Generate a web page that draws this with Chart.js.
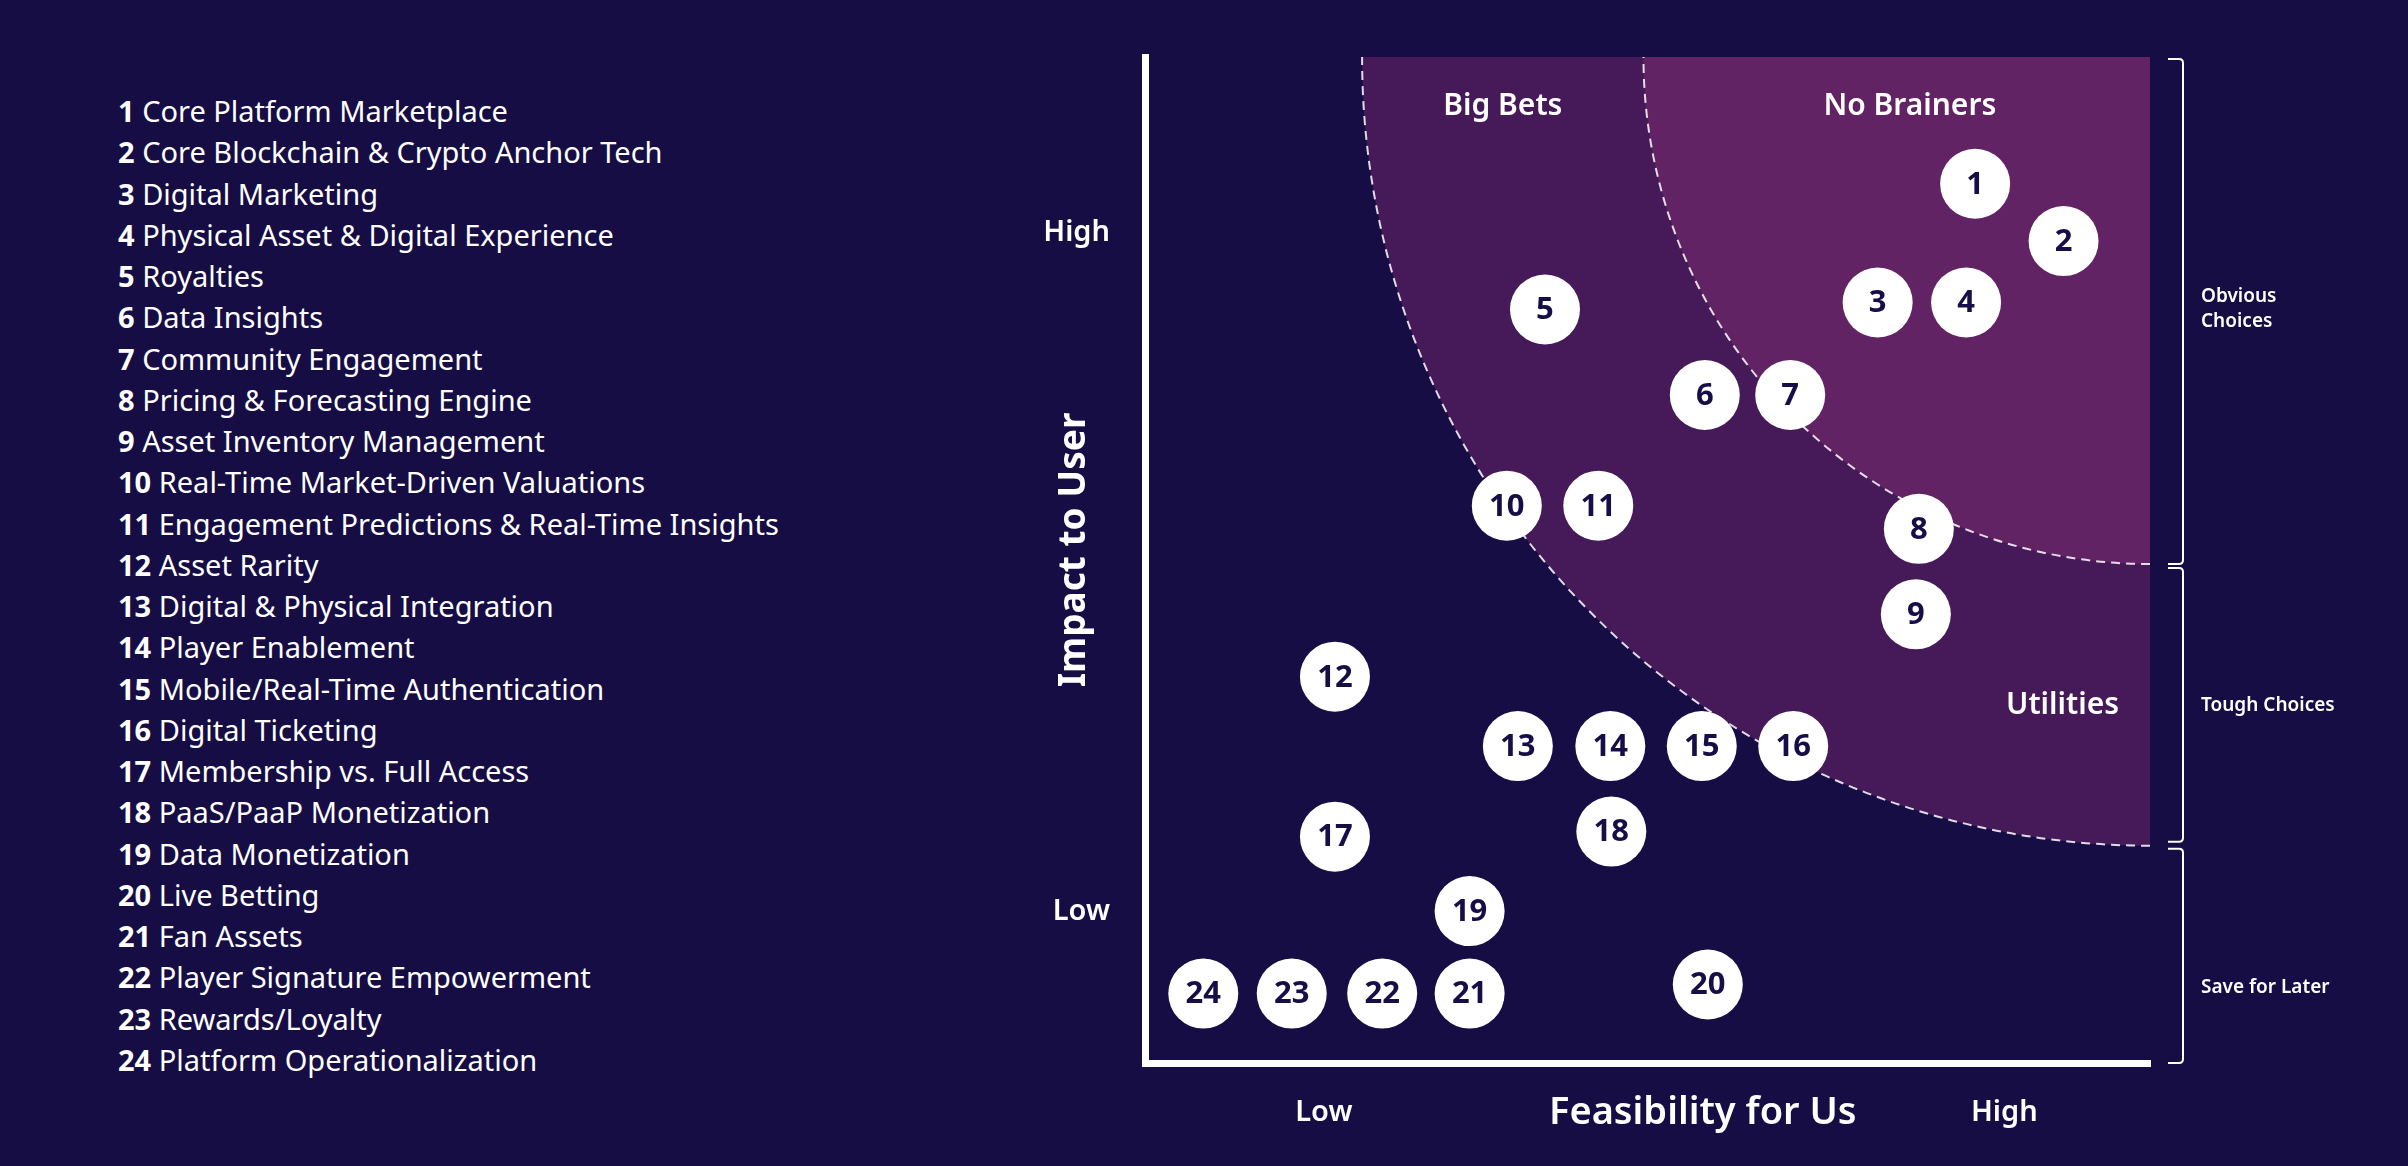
<!DOCTYPE html>
<html>
<head>
<meta charset="utf-8">
<script src="https://cdn.jsdelivr.net/npm/chart.js@4.4.1/dist/chart.umd.min.js"></script>
<style>
  html, body { margin:0; padding:0; background:#160d45; }
  #wrap { position:relative; width:2408px; height:1166px; overflow:hidden; }
  #chart { position:absolute; left:0; top:0; }
  #items { position:absolute; left:118px; top:90px; margin:0; padding:0; list-style:none;
           color:#fff; font-family:'Noto Sans', sans-serif; font-size:29px; }
  #items li { height:41.25px; line-height:41.25px; white-space:nowrap; }
  #items b { font-weight:700; }
</style>
</head>
<body>
<div id="wrap">
  <ol id="items"></ol>
  <canvas id="chart" width="2408" height="1166"></canvas>
</div>
<script>
const itemNames = [
  "Core Platform Marketplace",
  "Core Blockchain & Crypto Anchor Tech",
  "Digital Marketing",
  "Physical Asset & Digital Experience",
  "Royalties",
  "Data Insights",
  "Community Engagement",
  "Pricing & Forecasting Engine",
  "Asset Inventory Management",
  "Real-Time Market-Driven Valuations",
  "Engagement Predictions & Real-Time Insights",
  "Asset Rarity",
  "Digital & Physical Integration",
  "Player Enablement",
  "Mobile/Real-Time Authentication",
  "Digital Ticketing",
  "Membership vs. Full Access",
  "PaaS/PaaP Monetization",
  "Data Monetization",
  "Live Betting",
  "Fan Assets",
  "Player Signature Empowerment",
  "Rewards/Loyalty",
  "Platform Operationalization"
];
// feasibility (x) and impact (y), 0-100
const feasibility = [82.6, 91.4, 72.9, 81.7, 39.8, 55.7, 64.2, 77.0, 76.7, 36.0, 45.1, 18.9,
                     37.1, 46.3, 55.4, 64.5, 18.9, 46.4, 32.3, 56.0, 32.3, 23.6, 14.6, 5.8];
const impact      = [87.4, 81.7, 75.6, 75.6, 74.9, 66.4, 66.4, 53.1, 44.6, 55.4, 55.4, 38.4,
                     31.5, 31.5, 31.5, 31.5, 22.5, 23.0, 15.1, 7.8, 6.9, 6.9, 6.9, 6.9];

const xTickValues = [17.8, 85.5];
const xTickLabels = ["Low", "High"];
const yTickValues = [15.0, 82.5];
const yTickLabels = ["Low", "High"];

const zoneRadii = [78.4, 50.4];
const zoneColors = ["#461a58", "#622364"];
const zoneLabels = ["Big Bets", "No Brainers", "Utilities"];
const zoneLabelX = [35.6, 76.1, 91.3];
const zoneLabelY = [95.1, 95.1, 35.5];

const groupNames = [["Obvious", "Choices"], ["Tough Choices"], ["Save for Later"]];
const groupRanges = [[99.8, 49.6], [49.2, 22.0], [21.3, 0]];
const groupLabelY = [74.9, 35.5, 7.5];

const FONT = "'Noto Sans', sans-serif";
const NAVY = "#170e47";

// left hand list
document.getElementById("items").innerHTML = itemNames
  .map((n, i) => `<li><b>${i + 1}</b> ${n.replace(/&/g, "&amp;")}</li>`).join("");

const zones = {
  id: "zones",
  beforeDatasetsDraw(chart) {
    const { ctx, chartArea: a, scales: { x, y } } = chart;
    const cx = x.getPixelForValue(100), cy = y.getPixelForValue(100);
    ctx.save();
    ctx.beginPath();
    ctx.rect(a.left, a.top, a.right - a.left, a.bottom - a.top);
    ctx.clip();
    zoneRadii.forEach((r, i) => {
      const rx = cx - x.getPixelForValue(100 - r);
      const ry = y.getPixelForValue(100 - r) - cy;
      ctx.beginPath();
      ctx.ellipse(cx, cy, rx, ry, 0, 0, Math.PI * 2);
      ctx.fillStyle = zoneColors[i];
      ctx.fill();
    });
    ctx.setLineDash([9, 6]);
    ctx.lineWidth = 2;
    ctx.strokeStyle = "rgba(255,255,255,0.85)";
    zoneRadii.forEach(r => {
      const rx = cx - x.getPixelForValue(100 - r);
      const ry = y.getPixelForValue(100 - r) - cy;
      ctx.beginPath();
      ctx.ellipse(cx, cy, rx, ry, 0, Math.PI / 2, Math.PI);
      ctx.stroke();
    });
    ctx.restore();
  }
};

const labels = {
  id: "labels",
  afterDatasetsDraw(chart) {
    const { ctx, chartArea: a, scales: { x, y } } = chart;
    ctx.save();
    ctx.textAlign = "center";
    ctx.textBaseline = "middle";

    // numbers in the bubbles
    ctx.fillStyle = NAVY;
    ctx.font = `700 31px ${FONT}`;
    chart.getDatasetMeta(0).data.forEach((pt, i) => {
      ctx.fillText(String(i + 1), pt.x, pt.y + 1);
    });

    // zone names
    ctx.fillStyle = "#fff";
    ctx.font = `600 30px ${FONT}`;
    zoneLabels.forEach((t, i) => {
      ctx.fillText(t, x.getPixelForValue(zoneLabelX[i]), y.getPixelForValue(zoneLabelY[i]));
    });

    // axis titles
    ctx.font = `600 38px ${FONT}`;
    ctx.fillText("Feasibility for Us", x.getPixelForValue(55.5), a.bottom + 50);
    ctx.save();
    ctx.translate(a.left - 71, y.getPixelForValue(51));
    ctx.rotate(-Math.PI / 2);
    ctx.font = `700 37px ${FONT}`;
    ctx.fillText("Impact to User", 0, 0);
    ctx.restore();

    // brackets on the right
    ctx.strokeStyle = "#fff";
    ctx.lineWidth = 2;
    const bx = a.right + 33, hx = a.right + 18;
    groupRanges.forEach(([t, b]) => {
      const y1 = y.getPixelForValue(t), y2 = y.getPixelForValue(b);
      ctx.beginPath();
      ctx.moveTo(hx, y1);
      ctx.lineTo(bx - 4, y1);
      ctx.quadraticCurveTo(bx, y1, bx, y1 + 4);
      ctx.lineTo(bx, y2 - 4);
      ctx.quadraticCurveTo(bx, y2, bx - 4, y2);
      ctx.lineTo(hx, y2);
      ctx.stroke();
    });
    ctx.textAlign = "left";
    ctx.font = `600 19px ${FONT}`;
    groupNames.forEach((lines, i) => {
      const cy = y.getPixelForValue(groupLabelY[i]);
      lines.forEach((l, j) => {
        ctx.fillText(l, a.right + 51, cy + (j - (lines.length - 1) / 2) * 25);
      });
    });
    ctx.restore();
  }
};

new Chart(document.getElementById("chart"), {
  type: "scatter",
  data: {
    datasets: [{
      data: feasibility.map((v, i) => ({ x: v, y: impact[i] })),
      backgroundColor: "#fff",
      borderWidth: 0,
      pointRadius: 35,
      pointHoverRadius: 35
    }]
  },
  options: {
    responsive: false,
    devicePixelRatio: 1,
    animation: false,
    events: [],
    layout: { padding: { left: 0, top: 57, right: 258, bottom: 0 } },
    plugins: { legend: { display: false }, tooltip: { enabled: false } },
    scales: {
      x: {
        min: 0, max: 100,
        afterBuildTicks: s => { s.ticks = xTickValues.map(v => ({ value: v })); },
        afterFit: s => { s.height = 103; },
        ticks: { callback: (v, i) => xTickLabels[i], color: "#fff", padding: 32,
                 font: { family: FONT, size: 29, weight: "600" } },
        grid: { display: false, drawTicks: false },
        border: { display: true, color: "#fff", width: 7 }
      },
      y: {
        min: 0, max: 100,
        afterBuildTicks: s => { s.ticks = yTickValues.map(v => ({ value: v })); },
        afterFit: s => { s.width = 1145; },
        ticks: { callback: (v, i) => yTickLabels[i], color: "#fff", padding: 35,
                 font: { family: FONT, size: 29, weight: "600" } },
        grid: { display: false, drawTicks: false },
        border: { display: true, color: "#fff", width: 7 }
      }
    }
  },
  plugins: [zones, labels]
});
</script>
</body>
</html>
